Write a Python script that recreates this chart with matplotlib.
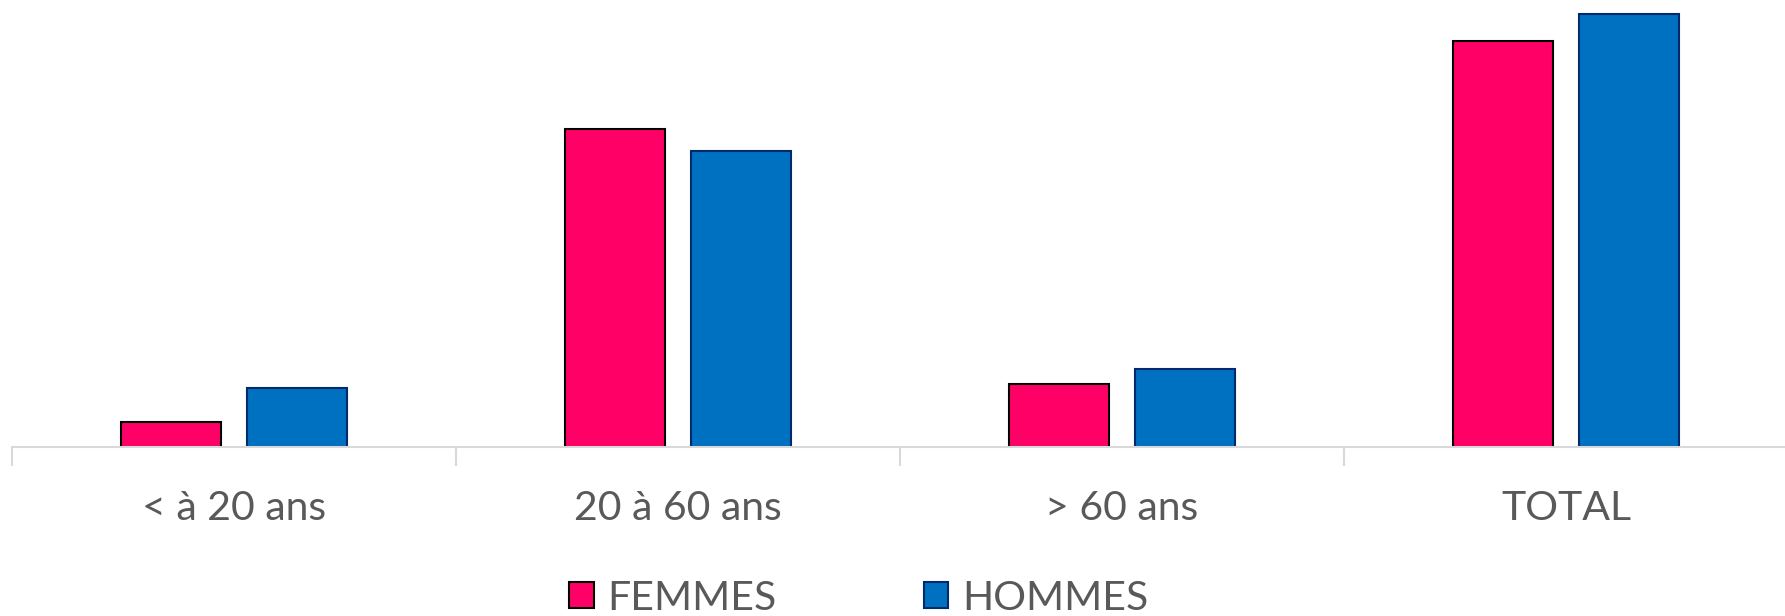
import numpy as np
import matplotlib.pyplot as plt
from matplotlib.patches import Patch

# Données
categories = ['< à 20 ans', '20 à 60 ans', '> 60 ans', 'TOTAL']
femmes = [25, 318, 63, 406]
hommes = [59, 296, 78, 433]

rose = '#FF0066'
bleu = '#0070C0'
gris = '#595959'

plt.rcParams['font.family'] = ['Lato', 'DejaVu Sans']

fig = plt.figure(figsize=(17.85, 6.16), dpi=100)
ax = fig.add_axes([12/1785, 169/616, 1776/1785, 447/616])

x = np.arange(len(categories))
largeur = 0.225
decal = 0.142
ax.bar(x - decal, femmes, largeur, color=rose, edgecolor='black', linewidth=1.5)
ax.bar(x + decal, hommes, largeur, color=bleu, edgecolor='#002A6B', linewidth=1.5)

ax.set_xlim(-0.5, 3.5)
ax.set_ylim(0, 447)
ax.set_yticks([])
for s in ['left', 'right', 'top']:
    ax.spines[s].set_visible(False)
ax.spines['bottom'].set_color('#d9d9d9')
ax.spines['bottom'].set_linewidth(1.5)

ax.set_xticks(x)
ax.set_xticklabels(categories, fontsize=29.5, color=gris)
ax.tick_params(axis='x', which='major', length=0, pad=31)
ax.set_xticks(np.arange(-0.5, 3.6, 1), minor=True)
ax.tick_params(axis='x', which='minor', length=14, width=1.5, color='#d9d9d9')

poignees = [Patch(facecolor=rose, edgecolor='black', linewidth=1.5),
            Patch(facecolor=bleu, edgecolor='#002A6B', linewidth=1.5)]
leg = fig.legend(poignees, ['FEMMES', 'HOMMES'], loc='center', bbox_to_anchor=(0.481, 0.029),
                 ncol=2, frameon=False, fontsize=29.5, handlelength=0.6, handleheight=0.62,
                 handletextpad=0.33, columnspacing=3.6, borderpad=0)
for t in leg.get_texts():
    t.set_color(gris)

fig.savefig('out.png', dpi=100)
